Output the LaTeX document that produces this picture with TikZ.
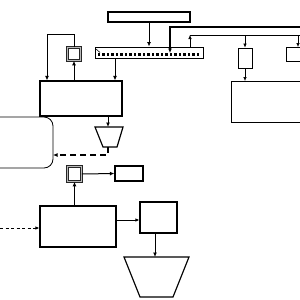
\documentclass[tikz,border=0pt]{standalone}
\usetikzlibrary{arrows.meta}
\begin{document}
\begin{tikzpicture}[x=1pt,y=-1pt,
  blk/.style={draw, line width=1.2pt, inner sep=0pt, fill=white},
  tbox/.style={draw, line width=0.8pt, inner sep=0pt, fill=white},
  dsq/.style={draw=black!85, double=gray!55, double distance=1.2pt, line width=0.6pt, inner sep=0pt, minimum width=13pt, minimum height=13pt},
  arr/.style={line width=1pt, -{Latex[length=4.5pt,width=4pt]}},
  tarr/.style={line width=0.6pt, -{Latex[length=4pt,width=3.5pt]}},
  tl/.style={line width=0.6pt},
]
\useasboundingbox (0,0) rectangle (300,300);
% top part
\node[blk, minimum width=82pt, minimum height=10pt] (top) at (149,17) {};
\node[tbox, line width=1pt, minimum width=108pt, minimum height=11pt] (bar) at (149,52.5) {};
\foreach \i in {0,...,22} {\fill (99+\i*4.5-1.1,53.4) rectangle ++(2.2,2.2);}
\draw[tl] (96,49) -- (100,52.5);
\node[dsq] (fbsq) at (74,54) {};
\node[blk, minimum width=82pt, minimum height=35pt] (mainA) at (81,98.5) {};
\draw[blk] (95,127) -- (123,127) -- (117,147) -- (103,147) -- cycle;
\coordinate (trapAtop) at (108,127);
\coordinate (trapAbot) at (108,147);
\draw[line width=0.8pt, rounded corners=9pt] (-20,117) -- (53,117) -- (53,168) -- (-20,168);
\coordinate (rbox) at (53,155);
% right part
\node[tbox, minimum width=14pt, minimum height=20pt] (R1) at (245,58) {};
\node[tbox, anchor=north west, minimum width=24pt, minimum height=14pt] (R2) at (286,47) {};
\node[tbox, anchor=north west, minimum width=80pt, minimum height=41pt] (big) at (231,81) {};
% lower part
\node[dsq, minimum width=14pt, minimum height=15pt] (lsq) at (74.5,174) {};
\node[blk, minimum width=28pt, minimum height=15pt] (B) at (129,173.5) {};
\node[blk, minimum width=76pt, minimum height=41pt] (mainB) at (78,226.5) {};
\node[blk, minimum width=37pt, minimum height=31pt] (C) at (158.5,217.5) {};
\draw[blk] (124,257) -- (189,257) -- (173,297) -- (140,297) -- cycle;
\coordinate (trapBtop) at (155,257);
% connectors top
\draw[arr, line width=0.8pt] (top.south) -- (bar.north);
\draw[arr] (bar.south -| 115,0) -- (mainA.north -| 115,0);
\draw[arr] (mainA.north -| fbsq) -- (fbsq.south);
\draw[arr] (fbsq.north) -- (74,34) -- (47,34) -- (mainA.north -| 47,0);
\draw[arr] (mainA.south -| trapAtop) -- (trapAtop);
\draw[arr, line width=1.6pt, dash pattern=on 6pt off 4pt] (trapAbot) -- (108,155) -- (rbox);
\coordinate (thickin) at (300,27);
\coordinate (thickend) at (170,53);
\draw[arr, line width=1.6pt] (thickin) -- (170,27) -- (thickend);
\coordinate (thinin) at (300,35);
\draw[tarr] (bar.north -| 190,0) -- (190,35);
\draw[tl] (190,35) -- (thinin);
\draw[tarr] (245,35) -- (R1.north);
\draw[tarr] (298,35) -- (R2.north -| 298,0);
\draw[tarr] (R1.south) -- (big.north -| R1);
% connectors bottom
\draw[arr] (mainB.north -| lsq) -- (lsq.south);
\draw[arr] (lsq.east) -- (B.west);
\coordinate (dashin) at (0,228);
\draw[tarr, line width=0.8pt, dash pattern=on 3pt off 2.5pt] (dashin) -- (mainB.west |- dashin);
\draw[tarr, line width=0.9pt] (mainB.east |- 0,220) -- (C.west |- 0,220);
\draw[arr] (C.south -| trapBtop) -- (trapBtop);
\end{tikzpicture}
\end{document}
